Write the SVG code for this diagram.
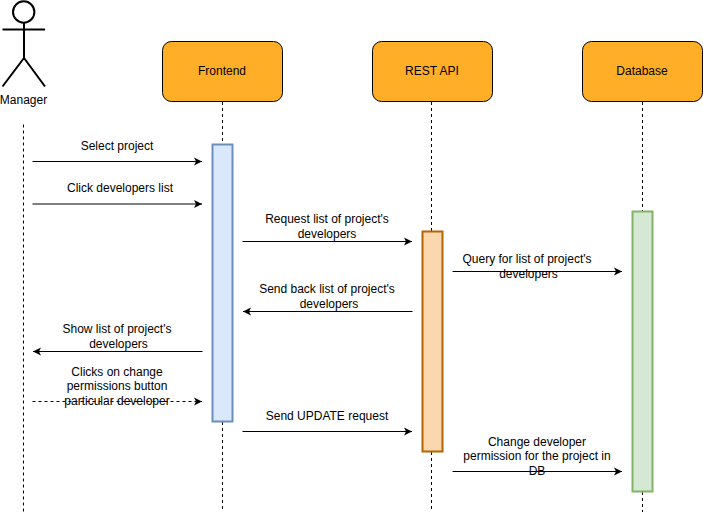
<svg xmlns="http://www.w3.org/2000/svg" width="703" height="513" viewBox="0 0 703 513">
<style>
text{font-family:"Liberation Sans",Arial,sans-serif;font-size:12px;fill:#000;text-anchor:middle}
.box{fill:#FFAF27;stroke:#000;stroke-width:1}
.life{stroke:#000;stroke-width:1;stroke-dasharray:3 3;fill:none}
.msg{stroke:#000;stroke-width:1;fill:none;marker-end:url(#arr)}
.actor{stroke:#000;stroke-width:2;fill:none}
</style>
<defs>
<marker id="arr" markerUnits="userSpaceOnUse" markerWidth="9" markerHeight="9" refX="8.500" refY="4.500" orient="auto"><path d="M0.500 0.500L8.500 4.500L0.500 8.500L2.500 4.500Z" fill="#000"/></marker>
</defs>
<g id="lifelines">
<path class="life" d="M23.500 124.500V512"/>
<path class="life" d="M222.500 102V144M222.500 422V512"/>
<path class="life" d="M431.500 102V232M431.500 452V512"/>
<path class="life" d="M642.500 102V212M642.500 492V512"/>
</g>
<g id="manager">
<circle class="actor" cx="23.700" cy="12" r="10.700"/>
<path class="actor" d="M24 23V58M2.500 29.500H45M24 58L2.500 86.500M24 58L45 86.500"/>
<text x="23.500" y="104">Manager</text>
</g>
<g id="frontend">
<rect class="box" x="162.500" y="41.500" width="120" height="60" rx="9" ry="9"/>
<text x="222" y="75">Frontend</text>
<rect x="212.500" y="144.500" width="20" height="277" fill="#DAE8FC" stroke="#6C8EBF" stroke-width="2"/>
</g>
<g id="rest-api">
<rect class="box" x="372.500" y="41.500" width="120" height="60" rx="9" ry="9"/>
<text x="432" y="75">REST API</text>
<rect x="422.500" y="231.500" width="20" height="220" fill="#FAD7AC" stroke="#B46504" stroke-width="2"/>
</g>
<g id="database">
<rect class="box" x="582.500" y="41.500" width="120" height="60" rx="9" ry="9"/>
<text x="642" y="75">Database</text>
<rect x="632.500" y="211.500" width="20" height="280" fill="#D5E8D4" stroke="#82B366" stroke-width="2"/>
</g>
<g id="connectors">
<path class="msg" d="M32.500 161.500H202"/>
<path class="msg" d="M32.500 204H202"/>
<path class="msg" d="M242.500 241.500H412"/>
<path class="msg" d="M452.500 271.500H622"/>
<path class="msg" d="M412.500 311.500H243"/>
<path class="msg" d="M202.500 351.500H33"/>
<path class="msg" d="M32.500 401.500H202" stroke-dasharray="3 3"/>
<path class="msg" d="M242.500 431.500H412"/>
<path class="msg" d="M452.500 471.500H622"/>
</g>
<g id="labels">
<text x="117" y="150">Select project</text>
<text x="120" y="192">Click developers list</text>
<text x="327" y="223">Request list of project's</text>
<text x="327" y="238">developers</text>
<text x="527" y="263">Query for list of project's</text>
<text x="528.500" y="278">developers</text>
<text x="327" y="293">Send back list of project's</text>
<text x="329" y="308">developers</text>
<text x="117" y="333">Show list of project's</text>
<text x="118.500" y="348">developers</text>
<text x="117" y="376">Clicks on change</text>
<text x="117" y="390">permissions button</text>
<text x="117" y="405">particular developer</text>
<text x="327" y="420">Send UPDATE request</text>
<text x="537" y="446">Change developer</text>
<text x="537" y="460">permission for the project in</text>
<text x="537" y="475">DB</text>
</g>
</svg>
